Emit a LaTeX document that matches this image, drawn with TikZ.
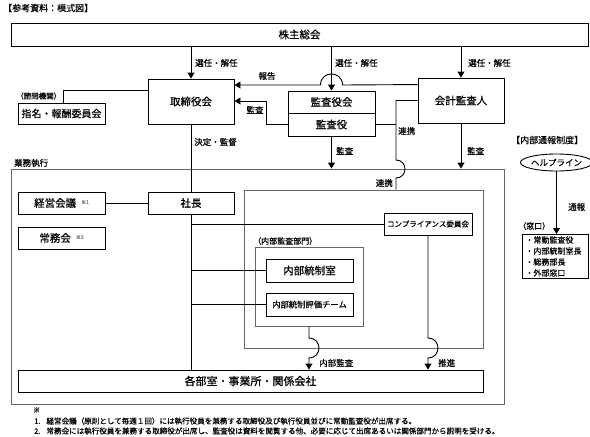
\documentclass[tikz,border=0pt]{standalone}
\usepackage{fontspec}
\setmainfont{Noto Sans CJK JP}[FakeBold=0.6]
\usetikzlibrary{arrows.meta,shapes.geometric,calc}
\tikzset{
  bx/.style={draw, line width=0.9pt, inner sep=0pt, font=\fontsize{10.5}{12}\selectfont},
  cont/.style={draw=black!60, line width=0.9pt, inner sep=0pt},
  lbl/.style={inner sep=0pt, font=\fontsize{8.5}{10}\selectfont},
  ln/.style={line width=0.9pt},
  arr/.style={line width=0.9pt, -{Triangle[length=6pt,width=7pt]}},
}
\begin{document}
\begin{tikzpicture}[x=1pt,y=-1pt]
\useasboundingbox (0,0) rectangle (590,437);
% title
\node[lbl, anchor=west, font=\fontsize{9}{10}\selectfont] (title) at (3,8) {【参考資料：模式図】};
% containers
\node[cont, minimum width=493pt, minimum height=235pt] (gyomu) at (257.5,286.5) {};
\node[cont, minimum width=239pt, minimum height=158pt] (inner) at (363.5,269) {};
\node[cont, minimum width=108pt, minimum height=79pt] (naibu) at (309,286.5) {};
% boxes
\node[bx, minimum width=577pt, minimum height=23pt] (kabu) at (299.5,34.5) {株主総会};
\node[bx, minimum width=86pt, minimum height=45pt] (tori) at (191,101.5) {取締役会};
\node[bx, minimum width=87pt, minimum height=21pt, font=\fontsize{10}{12}\selectfont] (shimei) at (61.5,113.5) {指名・報酬委員会};
\node[bx, minimum width=87pt, minimum height=22pt] (kansa1) at (331.5,102) {監査役会};
\node[bx, minimum width=87pt, minimum height=23pt] (kansa2) at (331.5,124.5) {監査役};
\node[bx, minimum width=86pt, minimum height=45pt] (kaikei) at (461,100.5) {会計監査人};
\node[bx, minimum width=86pt, minimum height=22pt] (shacho) at (191,203) {社長};
\node[bx, minimum width=87pt, minimum height=22pt] (keiei) at (61.5,203) {経営会議\hspace{5pt}\raisebox{3pt}{\textcolor{black!55}{\fontsize{5}{5}\selectfont ※1}}};
\node[bx, minimum width=87pt, minimum height=22pt] (jomu) at (61.5,238) {常務会\hspace{5pt}\raisebox{3pt}{\textcolor{black!55}{\fontsize{5}{5}\selectfont ※2}}};
\node[bx, minimum width=88pt, minimum height=22pt, font=\fontsize{7.5}{9}\selectfont] (comp) at (428,224) {コンプライアンス委員会};
\node[bx, minimum width=87pt, minimum height=23pt] (tosei) at (309.5,270.5) {内部統制室};
\node[bx, minimum width=87pt, minimum height=23pt, font=\fontsize{8.3}{10}\selectfont] (hyoka) at (309.5,304.5) {内部統制評価チーム};
\node[bx, minimum width=465pt, minimum height=22pt, font=\fontsize{11}{12}\selectfont] (kakubu) at (250.5,381) {各部室・事業所・関係会社};
\node[bx, ellipse, minimum width=63pt, minimum height=17pt, font=\fontsize{8.5}{10}\selectfont] (help) at (556.5,162.5) {ヘルプライン};
\node[bx, minimum width=65pt, minimum height=44pt, font=\fontsize{8}{11}\selectfont, align=left, anchor=north west, text width=60pt, inner xsep=3pt, inner ysep=1pt] (mado) at (522,234) {・常勤監査役\\・内部統制室長\\・総務部長\\・外部窓口};
% labels
\node[lbl, anchor=west] (l1) at (195,63) {選任・解任};
\node[lbl, anchor=west] (l2) at (335,63) {選任・解任};
\node[lbl, anchor=west] (l3) at (468,63) {選任・解任};
\node[lbl] (l4) at (267,76) {報告};
\node[lbl] (l5) at (255,110) {監査};
\node[lbl, anchor=west] (l6) at (194,142) {決定・監督};
\node[lbl, anchor=west] (l7) at (336,151) {監査};
\node[lbl, anchor=west] (l8) at (467,151) {監査};
\node[lbl, anchor=west] (l9) at (398,131) {連携};
\node[lbl, anchor=east] (l10) at (393,183) {連携};
\node[lbl, anchor=west] (l11) at (14,163) {業務執行};
\node[lbl, anchor=west, font=\fontsize{7.5}{9}\selectfont] (l12) at (16,96) {（諮問機関）};
\node[lbl, anchor=west, font=\fontsize{8}{9}\selectfont] (l13) at (253,241) {（内部監査部門）};
\node[lbl, anchor=west] (l14) at (319,363) {内部監査};
\node[lbl, anchor=west] (l15) at (438,363) {推進};
\node[lbl, anchor=west] (l16) at (568,207) {通報};
\node[lbl, anchor=west, font=\fontsize{8}{9}\selectfont] (l17) at (518,226) {（窓口）};
\node[lbl, anchor=west, font=\fontsize{9}{10}\selectfont] (l18) at (511,140) {【内部通報制度】};
% footnotes
\node[lbl, anchor=west, font=\fontsize{7}{8}\selectfont] (fn0) at (33,410) {※};
\node[lbl, anchor=west, font=\fontsize{7.55}{8}\selectfont] (fn1) at (34,421) {1.\hspace{6pt}経営会議（原則として毎週１回）には執行役員を兼務する取締役及び執行役員並びに常勤監査役が出席する。};
\node[lbl, anchor=west, font=\fontsize{7.55}{8}\selectfont] (fn2) at (34,431) {2.\hspace{6pt}常務会には執行役員を兼務する取締役が出席し、監査役は資料を閲覧する他、必要に応じて出席あるいは関係部門から説明を受ける。};
% connectors
\draw[arr] (kabu.south -| tori) -- (tori.north);
\draw[arr] (kabu.south -| kansa1) -- (kansa1.north);
\draw[arr] (kabu.south -| kaikei) -- (kaikei.north);
\draw[arr] ($(kaikei.north west)+(0,7)$) -- (342.5,85) .. controls (342.5,70.3) and (320.5,70.3) .. (320.5,85) -- (tori.east |- 0,85);
\draw[arr] (kansa2.west) -- (266,124.5) -- (266,101) -- (tori.east |- 0,101);
\draw[ln] (tori.west |- 0,90) -- (63,90) -- (shimei.north -| 63,0);
\draw[ln] (kaikei.west) -- (396,100.5) -- (396,160) .. controls (408,160) and (408,178) .. (396,178) -- (inner.north -| 396,0);
\draw[ln] (kansa2.east) -- (396,124.5);
\draw[arr] (kansa2.south) -- (gyomu.north -| kansa2);
\draw[arr] (kaikei.south) -- (gyomu.north -| kaikei);
\draw[ln] (tori.south) -- (shacho.north);
\draw[ln] (keiei.east) -- (shacho.west);
\draw[ln] (shacho.south) -- (kakubu.north -| shacho);
\draw[ln] (shacho.south |- comp.west) -- (comp.west);
\draw[ln] (shacho.south |- tosei.west) -- (tosei.west);
\draw[ln] (shacho.south |- hyoka.west) -- (hyoka.west);
\draw[arr] (naibu.south) -- (309,338) .. controls (322.3,338) and (322.3,358) .. (309,358) -- (kakubu.north -| naibu);
\draw[arr] (comp.south) -- (428,338) .. controls (441.3,338) and (441.3,358) .. (428,358) -- (kakubu.north -| comp);
\draw[arr] (help.south) -- (help.south |- mado.north);
\end{tikzpicture}
\end{document}
